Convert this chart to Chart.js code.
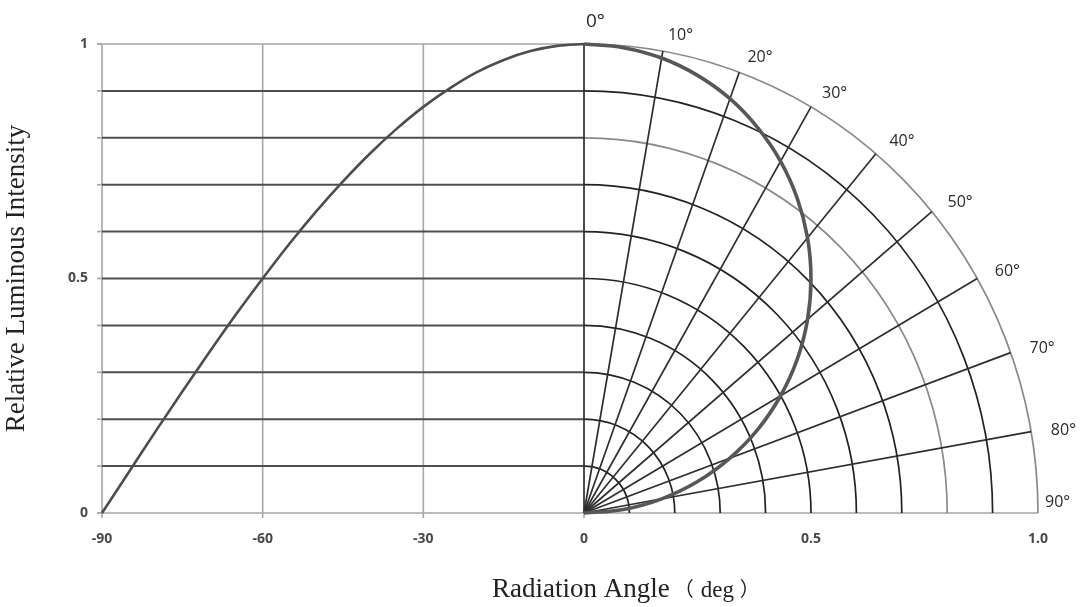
<!DOCTYPE html>
<html>
<head>
<meta charset="utf-8">
<script src="https://cdn.jsdelivr.net/npm/chart.js@4.4.1/dist/chart.umd.min.js"></script>
<style>
  html, body { margin: 0; padding: 0; background: #ffffff; }
  #wrap { width: 1086px; height: 607px; position: relative; }
</style>
</head>
<body>
<div id="wrap"><canvas id="chart" width="1086" height="607"></canvas></div>
<script>
// ---------------- data ----------------
const ANGLES = [-90, -85, -80, -75, -70, -65, -60, -55, -50, -45, -40, -35, -30, -25, -20, -15, -10, -5, 0];
const INTENSITY = [0, 0.087, 0.174, 0.259, 0.342, 0.423, 0.500, 0.574, 0.643, 0.707, 0.766, 0.819, 0.866, 0.906, 0.940, 0.966, 0.985, 0.996, 1.000];

const X_TICKS_DEG = [-90, -60, -30, 0];
const X_TICKS_RADIUS = [0.5, 1.0];
const X_TICK_LABELS = ['-90', '-60', '-30', '0', '0.5', '1.0'];
const Y_TICKS = [0, 0.5, 1];
const Y_TICK_LABELS = ['0', '0.5', '1'];
const Y_GRID = [0.1, 0.2, 0.3, 0.4, 0.5, 0.6, 0.7, 0.8, 0.9];
const Y_MINOR_TICKS = [0, 0.1, 0.2, 0.3, 0.4, 0.5, 0.6, 0.7, 0.8, 0.9, 1];
const X_GRID_DEG = [-60, -30];
const POLAR_RADII = [0.1, 0.2, 0.3, 0.4, 0.5, 0.6, 0.7, 0.8, 0.9, 1.0];
const POLAR_LIGHT_RADII = [0.8, 1.0];
const POLAR_SPOKES = [0, 10, 20, 30, 40, 50, 60, 70, 80];
const DEG_LABELS = [0, 10, 20, 30, 40, 50, 60, 70, 80, 90];

const Y_TITLE = 'Relative Luminous Intensity';
const X_TITLE_MAIN = 'Radiation Angle';
const X_TITLE_UNIT = 'deg';

// ---------------- layout / style ----------------
const R_SCALE = 90 * 454 / 482;   // x-axis units per unit radius on the polar half
const SERIF = '"Liberation Serif", "Times New Roman", serif';
const SANS = '"Open Sans", "Noto Sans", sans-serif';
const CJK = '"Noto Sans CJK SC", sans-serif';
const rad = d => d * Math.PI / 180;

const leftCurve = ANGLES.map((a, i) => ({ x: a, y: INTENSITY[i] }));
const polarCurve = ANGLES.map((a, i) => {
  const t = rad(-a);
  return { x: INTENSITY[i] * Math.sin(t) * R_SCALE, y: INTENSITY[i] * Math.cos(t) };
}).reverse();

const gridPlugin = {
  id: 'polarGrid',
  beforeDatasetsDraw(chart) {
    const { ctx, scales: { x, y } } = chart;
    const px = v => x.getPixelForValue(v);
    const py = v => y.getPixelForValue(v);
    const seg = (x1, y1, x2, y2) => { ctx.beginPath(); ctx.moveTo(x1, y1); ctx.lineTo(x2, y2); ctx.stroke(); };
    ctx.save();
    ctx.lineCap = 'butt';

    // light frame & cartesian grid
    ctx.strokeStyle = '#a6a6a6';
    ctx.lineWidth = 1.6;
    seg(px(-90), py(0), px(-90), py(1));
    seg(px(-90) - 5, py(1), px(0), py(1));
    seg(px(-90) - 5, py(0), px(R_SCALE), py(0));
    X_GRID_DEG.forEach(d => seg(px(d), py(0) + 5, px(d), py(1)));
    seg(px(-90), py(0), px(-90), py(0) + 5);
    seg(px(0), py(0), px(0), py(0) + 5);
    Y_MINOR_TICKS.forEach(v => seg(px(-90) - 5, py(v), px(-90), py(v)));

    // dark horizontal lines on the cartesian half
    ctx.strokeStyle = '#4f4f4f';
    ctx.lineWidth = 2;
    Y_GRID.forEach(v => seg(px(-90), py(v), px(0), py(v)));

    // polar arcs
    const cx = px(0), cy = py(0);
    ctx.lineWidth = 1.7;
    POLAR_RADII.forEach(r => {
      const rx = px(r * R_SCALE) - cx;
      const ry = cy - py(r);
      ctx.strokeStyle = POLAR_LIGHT_RADII.includes(r) ? '#8a8a8a' : '#222222';
      ctx.beginPath();
      ctx.ellipse(cx, cy, rx, ry, 0, -Math.PI / 2, 0);
      ctx.stroke();
    });

    // spokes
    ctx.strokeStyle = '#2e2e2e';
    ctx.lineWidth = 1.7;
    POLAR_SPOKES.forEach(a => {
      seg(cx, cy, px(Math.sin(rad(a)) * R_SCALE), py(Math.cos(rad(a))));
    });
    ctx.restore();
  },
  afterDraw(chart) {
    const { ctx, scales: { x, y } } = chart;
    const px = v => x.getPixelForValue(v);
    const py = v => y.getPixelForValue(v);
    ctx.save();
    ctx.fillStyle = '#2b2b2b';
    ctx.textBaseline = 'middle';
    ctx.textAlign = 'left';
    DEG_LABELS.forEach(a => {
      const s = Math.sin(rad(a)), c = Math.cos(rad(a));
      const ex = px(s * R_SCALE), ey = py(c);
      let lx = ex + 18 * s + 2;
      let ly = ey - 18 * c + 2;
      if (a === 90) { lx = ex + 7; ly = ey - 11; }
      if (a === 0) { ly = ey - 22; }
      ctx.font = (a === 0 ? '19px ' : '16px ') + SANS;
      ctx.fillText(a + '°', lx, ly);
    });

    // x-axis title
    ctx.fillStyle = '#222222';
    ctx.textBaseline = 'alphabetic';
    ctx.font = '27px ' + SERIF;
    const x0 = 492, base = 597;
    ctx.fillText(X_TITLE_MAIN, x0, base);
    const w = ctx.measureText(X_TITLE_MAIN).width;
    ctx.font = '20px ' + CJK;
    ctx.fillText('（', x0 + w + 4, base - 1);
    ctx.font = '23px ' + SERIF;
    ctx.fillText(X_TITLE_UNIT, x0 + w + 31, base);
    ctx.font = '20px ' + CJK;
    ctx.fillText('）', x0 + w + 70, base - 1);
    ctx.restore();
  }
};

new Chart(document.getElementById('chart'), {
  type: 'scatter',
  data: {
    datasets: [
      {
        label: 'Relative Luminous Intensity',
        data: leftCurve,
        showLine: true,
        borderColor: '#4d4d4d',
        borderWidth: 2.6,
        pointRadius: 0,
        cubicInterpolationMode: 'monotone',
        clip: false
      },
      {
        label: 'Polar pattern',
        data: polarCurve,
        showLine: true,
        borderColor: '#575757',
        borderWidth: 3.6,
        pointRadius: 0,
        tension: 0.4,
        clip: false
      }
    ]
  },
  options: {
    responsive: false,
    animation: false,
    events: [],
    layout: { padding: { top: 44, right: 48, left: 0, bottom: 0 } },
    plugins: { legend: { display: false }, tooltip: { enabled: false } },
    scales: {
      x: {
        type: 'linear',
        min: -90,
        max: R_SCALE,
        afterBuildTicks(s) {
          s.ticks = X_TICKS_DEG.concat(X_TICKS_RADIUS.map(r => r * R_SCALE)).map(v => ({ value: v }));
        },
        afterFit(s) { s.height = 94; s.paddingLeft = 0; s.paddingRight = 0; },
        grid: { display: false, drawTicks: false },
        border: { display: false },
        ticks: {
          autoSkip: false,
          maxRotation: 0,
          padding: 18,
          color: '#4a4a4a',
          font: { family: SANS, size: 14, weight: 'bold' },
          callback: (v, i) => X_TICK_LABELS[i]
        }
      },
      y: {
        min: 0,
        max: 1,
        afterBuildTicks(s) { s.ticks = Y_TICKS.map(v => ({ value: v })); },
        afterFit(s) { s.width = 102; s.paddingTop = 0; s.paddingBottom = 0; },
        grid: { display: false, drawTicks: false },
        border: { display: false },
        ticks: {
          padding: 14,
          color: '#4a4a4a',
          font: { family: SANS, size: 14, weight: 'bold' },
          callback: (v, i) => Y_TICK_LABELS[i]
        },
        title: {
          display: true,
          text: Y_TITLE,
          color: '#222222',
          font: { family: SERIF, size: 27 },
          padding: { top: 1, bottom: 0 }
        }
      }
    }
  },
  plugins: [gridPlugin]
});
</script>
</body>
</html>
